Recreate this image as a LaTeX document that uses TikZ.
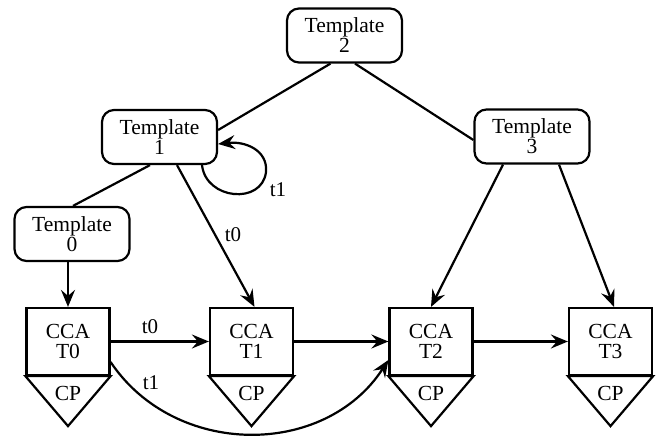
\documentclass[tikz,border=0pt]{standalone}
\usepackage{fontspec}
\setmainfont{Liberation Serif}
\usetikzlibrary{calc,arrows.meta}
\begin{document}
\begin{tikzpicture}[x=1pt,y=-1pt,
  every node/.style={font=\fontsize{21.5}{20}\selectfont},
  tmpl/.style={draw,line width=2.2pt,rounded corners=12pt,align=center,inner sep=0pt,minimum width=115pt,minimum height=54pt},
  cca/.style={draw,line width=2.2pt,align=center,inner sep=0pt,minimum width=83pt,minimum height=67pt},
  conn/.style={line width=2.2pt},
  arr/.style={line width=2.2pt,-{Stealth[length=17pt,width=14pt,inset=6pt]}},
  lbl/.style={font=\fontsize{21}{20}\selectfont,inner sep=0pt}]
\useasboundingbox (0,0) rectangle (657,437);
% template nodes
\node[tmpl] (t2) at (344.5,35.5) {Template\\2};
\node[tmpl] (t1) at (159.5,137) {Template\\1};
\node[tmpl] (t3) at (532,136.5) {Template\\3};
\node[tmpl] (t0) at (72,234) {Template\\0};
% CCA nodes
\node[cca] (c0) at (68,341.5) {CCA\\T0};
\node[cca] (c1) at (251.5,341.5) {CCA\\T1};
\node[cca] (c2) at (431,341.5) {CCA\\T2};
\node[cca] (c3) at (610.5,341.5) {CCA\\T3};
% CP triangles
\foreach \c in {c0,c1,c2,c3}{
  \draw[line width=2.2pt,line join=miter] (\c.south west) -- (\c.south east) -- ($(\c.south)+(0,50)$) -- cycle;
  \node[inner sep=0pt] (\c cp) at ($(\c.south)+(0,17)$) {CP};
}
% tree connectors
\draw[conn] ([xshift=-14pt]t2.south) -- ([yshift=7pt]t1.east);
\draw[conn] ([xshift=10.5pt]t2.south) -- ([yshift=-3.5pt]t3.west);
\draw[conn] ([xshift=-9.5pt]t1.south) -- ([xshift=1pt]t0.north);
% arrows to CCA
\draw[arr] (t0.south -| c0.north) -- (c0.north);
\draw[arr] ([xshift=17.5pt]t1.south) -- ([xshift=3pt]c1.north);
\draw[arr] ([xshift=-29pt]t3.south) -- (c2.north);
\draw[arr] ([xshift=27pt]t3.south) -- ([xshift=3.5pt]c3.north);
% self loop
\draw[arr] ([xshift=42.5pt]t1.south) .. controls (206,200) and (262,205) .. (266,172)
  .. controls (268,150) and (245,141) .. ([yshift=-7pt]t1.east);
% horizontal arrows
\draw[arr] (c0.east) -- (c1.west);
\draw[arr] (c1.east) -- (c2.west);
\draw[arr] (c2.east) -- (c3.west);
% bottom curve
\draw[arr] ([yshift=-20.5pt]c0.east) .. controls (175,458) and (325,458) .. ([yshift=-18.5pt]c2.west);
% labels
\node[lbl] (l1) at (278,190) {t1};
\node[lbl] (l2) at (233,235) {t0};
\node[lbl] (l3) at (150,327) {t0};
\node[lbl] (l4) at (151,383) {t1};
\end{tikzpicture}
\end{document}
